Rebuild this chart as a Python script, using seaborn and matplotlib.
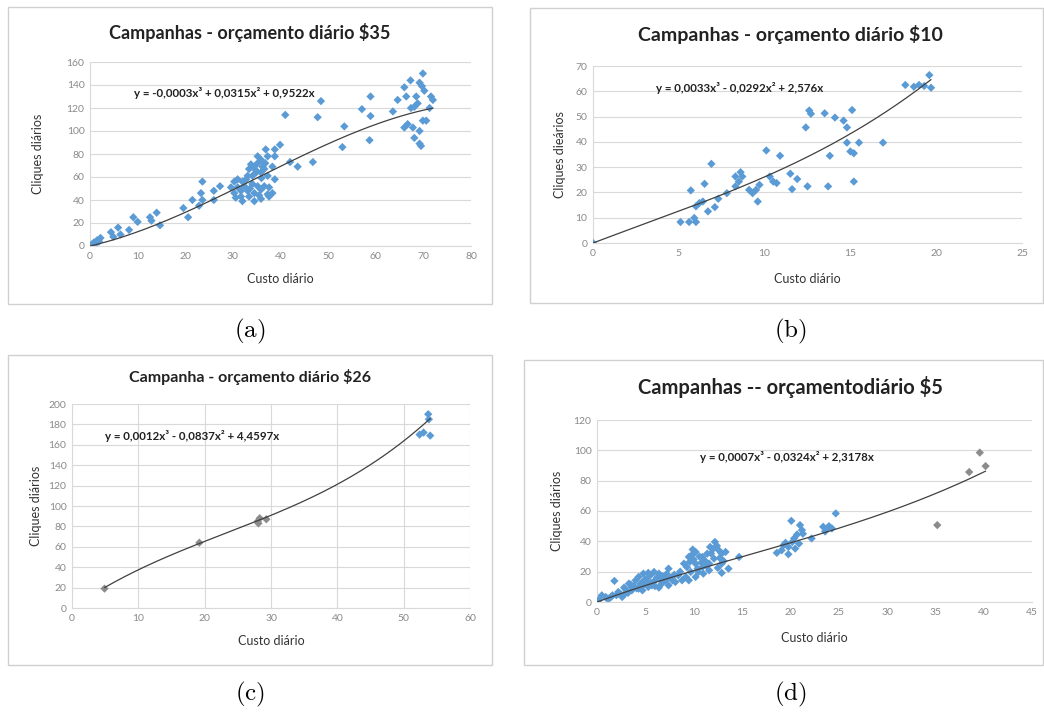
import numpy as np
import pandas as pd
import matplotlib
matplotlib.use("Agg")
import matplotlib.pyplot as plt
import seaborn as sns
from matplotlib.patches import Rectangle

# (a) Campanhas - orçamento diário $35
a_x = [0.0, 0.3, 0.5, 0.8, 1.2, 1.2, 1.5, 1.9, 2.2, 4.4, 4.9, 5.9, 6.4, 8.2, 9.1, 10.0,
       12.6, 12.9, 14.0, 14.7, 19.6, 20.6, 21.5, 22.9, 23.3, 23.6, 23.6, 26.0, 26.0, 27.3,
       29.6, 30.3, 30.3, 30.6, 31.0, 31.0, 31.7, 31.7, 32.0, 32.0, 32.4, 33.1, 33.1, 33.4,
       33.4, 33.8, 34.1, 34.1, 34.5, 34.5, 34.5, 34.9, 35.2, 35.2, 35.2, 35.9, 35.9, 35.9,
       35.9, 36.2, 36.6, 36.6, 36.9, 37.3, 37.3, 37.3, 37.6, 37.6, 38.3, 38.3, 38.8, 38.8,
       38.8, 39.9, 41.0, 42.0, 43.6, 46.8, 47.8, 48.5, 53.0, 53.4, 57.1, 58.7, 58.9, 58.9,
       63.6, 64.6, 66.0, 66.0, 66.4, 66.7, 67.3, 67.4, 67.8, 68.1, 68.1, 68.5, 68.8, 69.2,
       69.2, 69.2, 69.5, 69.7, 69.9, 69.9, 70.2, 70.6, 71.3, 71.6, 72.0,
       32.8, 34.8, 36.0, 33.6, 35.5, 36.8]
a_y = [0, 1, 1.5, 3, 3.5, 2, 5, 4, 7, 12, 8, 16, 10, 14, 25, 21,
       25, 22, 29, 18, 33, 25, 40, 35, 46, 56, 40, 48, 40, 52,
       51, 46, 56, 42, 58, 51, 43, 48, 56, 39, 52, 61, 48, 67,
       43, 71, 54, 61, 69, 46, 39, 64, 72, 52, 78, 75, 64, 49,
       41, 69, 67, 52, 84, 78, 61, 45, 51, 43, 46, 69, 78, 84,
       58, 88, 114, 73, 69, 73, 112, 126, 86, 104, 119, 92, 130, 113,
       117, 127, 138, 103, 130, 106, 144, 120, 103, 121, 94, 130, 124, 142,
       100, 89, 87, 139, 150, 109, 135, 109, 120, 130, 127,
       58, 66, 59, 50, 44, 72]

# (b) Campanhas - orçamento diário $10
b_x = [0.0, 5.1, 5.6, 5.7, 5.9, 6.0, 6.0, 6.2, 6.4, 6.5, 6.7, 6.9, 7.1, 7.3, 7.8, 8.3,
       8.3, 8.5, 8.6, 8.7, 9.1, 9.3, 9.5, 9.6, 9.7, 10.1, 10.3, 10.5, 10.7, 10.9, 11.5,
       11.6, 11.9, 12.4, 12.5, 12.6, 12.7, 13.5, 13.7, 13.8, 14.1, 14.6, 14.8, 14.8, 15.0,
       15.1, 15.2, 15.2, 15.5, 16.9, 18.2, 18.7, 19.0, 19.3, 19.6, 19.7]
b_y = [0, 8.3, 8.3, 20.8, 9.9, 8.3, 14.5, 15.8, 16.4, 23.4, 12.5, 31.3, 14.2, 17.5, 19.7, 22.4,
       26.3, 24.3, 28.0, 26.3, 21.0, 19.7, 21.0, 16.4, 23.0, 36.6, 26.3, 24.3, 23.7, 34.5, 27.4,
       21.3, 25.3, 45.7, 22.4, 52.4, 51.1, 51.3, 22.4, 34.5, 49.6, 48.4, 45.7, 39.7, 36.2,
       52.6, 35.5, 24.3, 39.7, 39.7, 62.5, 61.8, 62.5, 62.1, 66.4, 61.4]

# (c) Campanha - orçamento diário $26
c_x = [4.9, 19.2, 28.0, 28.3, 28.1, 29.3, 52.4, 53.0, 53.7, 53.8, 54.0]
c_y = [19, 64, 85, 88, 83, 87, 170, 172, 190, 185, 169]
c_grey = [True, True, True, True, True, True, False, False, False, False, False]

# (d) Campanhas -- orçamentodiário $5
d_x = [0.1, 0.2, 0.5, 0.9, 1.2, 1.6, 1.8, 2.2, 2.6, 2.8, 2.9, 3.3, 3.6, 3.6, 4.0, 4.3,
       4.3, 4.7, 4.8, 5.0, 5.3, 5.3, 5.7, 5.9, 6.0, 6.4, 6.4, 6.7, 7.1, 7.4, 7.4, 7.8,
       8.1, 8.4, 8.8, 9.0, 9.2, 9.5, 9.5, 9.7, 9.9, 10.2, 10.2, 10.2, 10.5, 10.9, 10.9,
       11.0, 11.4, 11.6, 11.6, 11.7, 12.1, 12.2, 12.6, 12.9, 12.9, 12.9, 13.6, 14.7, 18.6,
       19.1, 19.5, 19.8, 19.8, 20.1, 20.2, 20.5, 20.9, 21.0, 21.2, 22.2, 23.4, 23.8, 24.3,
       24.7,
       1.0, 1.4, 2.0, 2.4, 3.0, 3.2, 3.8, 4.1, 4.5, 4.6, 5.1, 5.2, 5.5, 5.6, 6.2, 6.5,
       6.8, 7.2, 7.6, 8.0, 8.6, 9.3, 9.8, 10.0, 10.4, 10.6, 11.2, 11.8, 12.0, 12.4, 12.7,
       13.1, 13.3, 9.6, 10.8, 11.3, 12.5, 3.5, 4.9, 6.0, 20.4, 20.7, 19.3, 21.3, 23.6, 24.0,
       35.2, 38.5, 39.6, 40.2]
d_y = [0.7, 1.5, 4.4, 3.3, 2.2, 4.4, 13.9, 6.6, 3.3, 9.5, 5.5, 12.1, 7.7, 9.9, 14.3, 16.5,
       8.8, 7.7, 18.7, 12.1, 19.2, 9.9, 11.0, 19.8, 14.3, 18.7, 9.5, 12.1, 14.3, 22.0, 11.0, 14.3,
       13.2, 17.6, 14.3, 25.3, 16.5, 29.7, 14.3, 19.8, 34.6, 33.0, 25.3, 16.5, 19.8, 29.7, 23.1,
       18.7, 31.9, 25.3, 20.9, 36.3, 28.6, 39.6, 34.1, 31.9, 25.3, 19.2, 22.0, 29.7, 32.4,
       34.1, 39.0, 36.3, 31.5, 53.5, 39.6, 35.2, 38.5, 50.7, 47.4, 41.9, 49.6, 48.5, 48.5,
       58.4,
       2.5, 3.0, 4.5, 5.5, 8.0, 6.0, 10.5, 9.0, 12.0, 10.0, 15.0, 13.0, 17.5, 12.5, 16.0, 15.5,
       17.0, 18.5, 16.0, 18.0, 20.0, 23.0, 31.0, 28.0, 22.0, 30.0, 27.0, 32.0, 35.0, 37.0, 29.0,
       27.0, 33.0, 26.5, 26.0, 24.0, 22.5, 11.5, 14.5, 10.5, 42.0, 44.5, 37.5, 45.0, 46.5, 50.0,
       50.7, 85.7, 98.5, 89.6]
d_grey = [False] * (len(d_x) - 4) + [True, True, True, True]

# trendline coefficients (x^3, x^2, x) as shown on each chart
coef_a = [-0.0003, 0.0315, 0.9522]
coef_b = [0.0033, -0.0292, 2.576]
coef_c = [0.0012, -0.0837, 4.4597]
coef_d = [0.0007, -0.0324, 2.3178]

eq_a = "y = -0,0003x³ + 0,0315x² + 0,9522x"
eq_b = "y = 0,0033x³ - 0,0292x² + 2,576x"
eq_c = "y = 0,0012x³ - 0,0837x² + 4,4597x"
eq_d = "y = 0,0007x³ - 0,0324x² + 2,3178x"

BLUE = "#5b9bd5"
GREY = "#8c8c8c"
GRID = "#d9d9d9"
TICK = "#8a8a8a"

sns.set_theme(style="white")
plt.rcParams["font.family"] = ["Lato", "DejaVu Sans"]
plt.rcParams["mathtext.fontset"] = "cm"

W, H = 1044, 713
fig = plt.figure(figsize=(W / 100, H / 100), dpi=100)


def px_axes(x0, y0, x1, y1):
    # pixel box (left, top, right, bottom) -> figure axes
    return fig.add_axes([x0 / W, 1 - y1 / H, (x1 - x0) / W, (y1 - y0) / H])


def panel(ax, xs, ys, grey, coef, xlim, xstep, ylim, ystep, title, eq,
          ylabel, title_xy, title_size, eq_xy, xlab_y, ylab_x, line_from=0.0):
    df = pd.DataFrame({"x": xs, "y": ys,
                       "g": ["g" if f else "b" for f in grey]})
    sns.scatterplot(data=df, x="x", y="y", hue="g",
                    palette={"b": BLUE, "g": GREY}, marker="D", s=18,
                    edgecolor="none", legend=False, ax=ax, zorder=3)
    xx = np.linspace(line_from, max(xs), 200)
    yy = coef[0] * xx ** 3 + coef[1] * xx ** 2 + coef[2] * xx
    sns.lineplot(x=xx, y=yy, color="#404040", lw=0.9, ax=ax, zorder=4)
    ax.set_xlim(*xlim)
    ax.set_ylim(*ylim)
    ax.set_xticks(np.arange(xlim[0], xlim[1] + 0.01, xstep))
    ax.set_yticks(np.arange(ylim[0], ylim[1] + 0.01, ystep))
    ax.tick_params(length=0, labelsize=7.5, labelcolor=TICK, pad=4)
    ax.grid(axis="y", color=GRID, lw=0.8)
    for s in ["top", "right"]:
        ax.spines[s].set_visible(False)
    for s in ["left", "bottom"]:
        ax.spines[s].set_color(GRID)
        ax.spines[s].set_linewidth(0.8)
    ax.set_xlabel("")
    ax.set_ylabel("")
    fig.text(title_xy[0] / W, 1 - title_xy[1] / H, title, ha="center",
             va="center", fontsize=title_size, fontweight="bold", color="#222222")
    fig.text(eq_xy[0] / W, 1 - eq_xy[1] / H, eq, ha="center", va="center",
             fontsize=8.3, fontweight="bold", color="#222222")
    cx = (ax.get_position().x0 + ax.get_position().x1) / 2
    fig.text(cx, 1 - xlab_y / H, "Custo diário", ha="center", va="center",
             fontsize=9, color="#333333")
    cy = (ax.get_position().y0 + ax.get_position().y1) / 2
    fig.text(ylab_x / W, cy, ylabel, ha="center", va="center", rotation=90,
             fontsize=9, color="#333333")


# panel frames
for (x0, y0, x1, y1) in [(8, 7, 492, 304), (530, 8, 1043, 303),
                         (8, 355, 492, 665), (524, 360, 1043, 665)]:
    fig.patches.append(Rectangle((x0 / W, 1 - y1 / H), (x1 - x0) / W, (y1 - y0) / H,
                                 transform=fig.transFigure, fill=False,
                                 edgecolor="#d0d0d0", lw=1.0))

ax_a = px_axes(90, 62, 471, 246)
panel(ax_a, a_x, a_y, [False] * len(a_x), coef_a, (0, 80), 10, (0, 160), 20,
      r"Campanhas - orçamento diário \$35", eq_a, "Cliques diários",
      (250, 32), 13, (224, 93), 279, 38)

ax_b = px_axes(593, 66, 1022, 243)
panel(ax_b, b_x, b_y, [False] * len(b_x), coef_b, (0, 25), 5, (0, 70), 10,
      r"Campanhas - orçamento diário \$10", eq_b, "Cliques dieários",
      (790, 35), 14, (740, 88), 279, 560)

ax_c = px_axes(72, 404, 470, 608)
panel(ax_c, c_x, c_y, c_grey, coef_c, (0, 60), 10, (0, 200), 20,
      r"Campanha - orçamento diário \$26", eq_c, "Cliques diários",
      (250, 377), 11.5, (192, 436), 641, 36, line_from=4.9)
ax_c.grid(axis="x", color=GRID, lw=0.8)

ax_d = px_axes(597, 420, 1032, 602)
panel(ax_d, d_x, d_y, d_grey, coef_d, (0, 45), 5, (0, 120), 20,
      r"Campanhas -- orçamentodiário \$5", eq_d, "Cliques diários",
      (790, 387), 14.5, (787, 457), 638, 557)

for label, (x, y) in zip(["(a)", "(b)", "(c)", "(d)"],
                         [(250, 331), (790, 331), (250, 694), (790, 694)]):
    fig.text(x / W, 1 - y / H, r"$\mathrm{" + label + "}$", ha="center",
             va="center", fontsize=18, color="black")

fig.savefig("out.png", dpi=100, facecolor="white")
